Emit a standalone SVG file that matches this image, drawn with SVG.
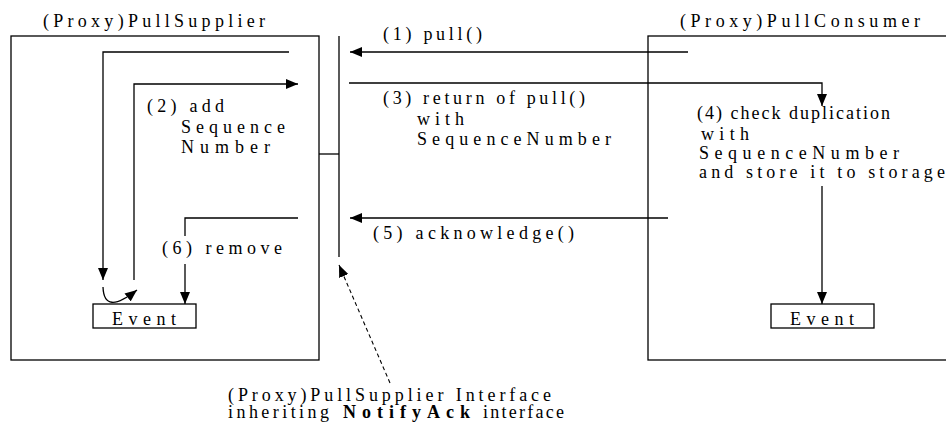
<svg xmlns="http://www.w3.org/2000/svg" width="946" height="430" viewBox="0 0 946 430">
<style>
  .box { fill: none; stroke: #000; stroke-width: 1.3; }
  .ln { fill: none; stroke: #000; stroke-width: 1.3; }
  .dash { fill: none; stroke: #000; stroke-width: 1.1; stroke-dasharray: 4 3; }
  text { font-family: "Liberation Serif", "Times New Roman", serif; font-size: 18px; fill: #000; }
  .b { font-weight: bold; }
</style>
<defs>
  <marker id="ah" viewBox="0 0 12 10" refX="12" refY="5" markerWidth="12" markerHeight="10" markerUnits="userSpaceOnUse" orient="auto">
    <path d="M0,0 L12,5 L0,10 z" fill="#000"/>
  </marker>
</defs>
<rect x="0" y="0" width="946" height="430" fill="#fff"/>

<g id="supplier">
  <rect class="box" x="11" y="36" width="308" height="324"/>
  <text x="43" y="27" textLength="222" lengthAdjust="spacing">(Proxy)PullSupplier</text>
  <text x="147" y="112" textLength="77" lengthAdjust="spacing">(2) add</text>
  <text x="181" y="133" textLength="104" lengthAdjust="spacing">Sequence</text>
  <text x="181" y="153" textLength="89" lengthAdjust="spacing">Number</text>
  <text x="162" y="254" textLength="120" lengthAdjust="spacing">(6) remove</text>
</g>

<g id="supplier-event">
  <rect class="box" x="93" y="304" width="103" height="24"/>
  <text x="112" y="325" textLength="64" lengthAdjust="spacing">Event</text>
</g>

<g id="interface">
  <line class="ln" x1="339" y1="36" x2="339" y2="257"/>
  <line class="ln" x1="319" y1="154" x2="339" y2="154"/>
</g>

<g id="consumer">
  <rect class="box" x="648" y="36" width="320" height="324"/>
  <text x="680" y="27" textLength="240" lengthAdjust="spacing">(Proxy)PullConsumer</text>
  <text x="697" y="119" textLength="193" lengthAdjust="spacing">(4) check duplication</text>
  <text x="701" y="140" textLength="48" lengthAdjust="spacing">with</text>
  <text x="699" y="159" textLength="200" lengthAdjust="spacing">SequenceNumber</text>
  <text x="699" y="178" textLength="246" lengthAdjust="spacing">and store it to storage</text>
</g>

<g id="consumer-event">
  <rect class="box" x="771" y="304" width="103" height="24"/>
  <text x="790" y="325" textLength="64" lengthAdjust="spacing">Event</text>
</g>

<g id="labels">
  <text x="383" y="40" textLength="99" lengthAdjust="spacing">(1) pull()</text>
  <text x="383" y="104" textLength="202" lengthAdjust="spacing">(3) return of pull()</text>
  <text x="417" y="125" textLength="47" lengthAdjust="spacing">with</text>
  <text x="417" y="145" textLength="194" lengthAdjust="spacing">SequenceNumber</text>
  <text x="373" y="239" textLength="201" lengthAdjust="spacing">(5) acknowledge()</text>
  <text x="228" y="401" textLength="323" lengthAdjust="spacing">(Proxy)PullSupplier Interface</text>
  <text y="418"><tspan x="228" textLength="101" lengthAdjust="spacing">inheriting</tspan><tspan class="b" x="343" textLength="127" lengthAdjust="spacing">NotifyAck</tspan><tspan x="483" textLength="81" lengthAdjust="spacing">interface</tspan></text>
</g>

<g id="connectors">
  <path class="ln" d="M289 52 H103 V280" marker-end="url(#ah)"/>
  <path class="ln" d="M134 280 V84 H298" marker-end="url(#ah)"/>
  <path class="ln" d="M103 287 Q104 316 137 290" marker-end="url(#ah)"/>
  <path class="ln" d="M298 218 H185 V236"/>
  <path class="ln" d="M185 264 V304" marker-end="url(#ah)"/>
  <path class="ln" d="M688 52 H350" marker-end="url(#ah)"/>
  <path class="ln" d="M349 83 H822 V106" marker-end="url(#ah)"/>
  <path class="ln" d="M822 186 V304" marker-end="url(#ah)"/>
  <path class="ln" d="M668 218 H350" marker-end="url(#ah)"/>
  <path class="dash" d="M390 383 L339 265" marker-end="url(#ah)"/>
</g>
</svg>
